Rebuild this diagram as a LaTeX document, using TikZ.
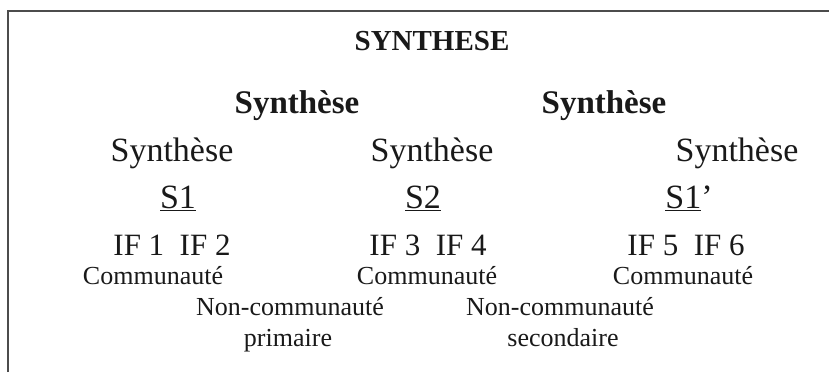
\documentclass[tikz,border=0pt]{standalone}
\usepackage{fontspec}
\setmainfont{Liberation Serif}
\begin{document}
\begin{tikzpicture}[x=1pt,y=-1pt,
  lbl/.style={anchor=base, inner sep=0pt, text=black!90},
  title/.style={lbl, font=\fontsize{29}{32}\selectfont\bfseries},
  bigsyn/.style={lbl, font=\fontsize{33}{36}\selectfont\bfseries},
  regsyn/.style={lbl, font=\fontsize{34}{36}\selectfont},
  ifrow/.style={lbl, font=\fontsize{31}{34}\selectfont},
  small/.style={lbl, font=\fontsize{26}{28}\selectfont},
  frame/.style={line width=1.5pt, draw=black!70}]
\useasboundingbox (0,0) rectangle (829,372);
\coordinate (fb) at (8,372);
\coordinate (fc) at (8,11);
\coordinate (fr) at (829,11);
\draw[frame] (fb) -- (fc) -- (fr);
\node[title] (t) at (432,50) {SYNTHESE};
\node[bigsyn] (b1) at (297,113) {Synthèse};
\node[bigsyn] (b2) at (604,113) {Synthèse};
\node[regsyn] (s1) at (172,161) {Synthèse};
\node[regsyn] (s2) at (432,161) {Synthèse};
\node[regsyn] (s3) at (737,161) {Synthèse};
\node[regsyn] (u1) at (178,208) {\underline{S1}};
\node[regsyn] (u2) at (423,208) {\underline{S2}};
\node[regsyn] (u3) at (689,208) {\underline{S1}’};
\node[ifrow] (i1) at (172,255) {IF 1\hspace{0.5em}IF 2};
\node[ifrow] (i2) at (428,255) {IF 3\hspace{0.5em}IF 4};
\node[ifrow] (i3) at (686,255) {IF 5\hspace{0.5em}IF 6};
\node[small] (c1) at (153,284) {Communauté};
\node[small] (c2) at (427,284) {Communauté};
\node[small] (c3) at (683,284) {Communauté};
\node[small] (n1) at (290,315) {Non-communauté};
\node[small] (n2) at (560,315) {Non-communauté};
\node[small] (p1) at (288,346) {primaire};
\node[small] (p2) at (563,346) {secondaire};
\end{tikzpicture}
\end{document}
